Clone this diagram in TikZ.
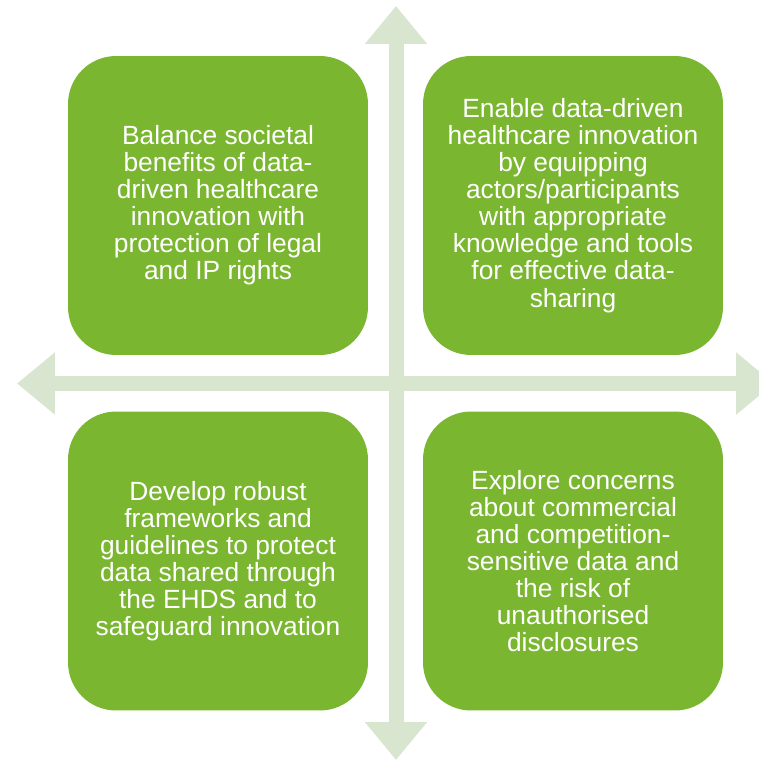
\documentclass[tikz,border=0pt]{standalone}
\usepackage{fontspec}
\setmainfont{Liberation Sans}
\usetikzlibrary{arrows.meta}
\definecolor{leafgreen}{RGB}{122,182,48}
\definecolor{axisgreen}{RGB}{216,229,207}

\begin{document}
\begin{tikzpicture}[x=0.02cm, y=-0.02cm,
        quad/.style={fill=leafgreen, rounded corners=0.96cm, minimum width=6cm, minimum height=5.98cm,
            text=white, align=center, inner sep=0pt, font=\fontsize{15}{15.4}\selectfont},
        axis/.style={axisgreen, line width=0.3cm, {Triangle[width=1.2cm,length=0.76cm]}-{Triangle[width=1.2cm,length=0.76cm]}}]
        \clip (0,0) rectangle (759,761);
        \useasboundingbox (0,0) rectangle (759,761);
        \coordinate (top) at (396,6);
        \coordinate (bottom) at (396,760);
        \coordinate (left) at (17,383.5);
        \coordinate (right) at (774,383.5);
        \draw [axis] (top) -- (bottom);
        \draw [axis] (left) -- (right);
        \node [quad] (tl) at (218,205.5) {Balance societal\\benefits of data-\\driven healthcare\\innovation with\\protection of legal\\and IP rights};
        \node [quad] (tr) at (573,205.5) {Enable data-driven\\healthcare innovation\\by equipping\\actors/participants\\with appropriate\\knowledge and tools\\for effective data-\\sharing};
        \node [quad] (bl) at (218,561) {Develop robust\\frameworks and\\guidelines to protect\\data shared through\\the EHDS and to\\safeguard innovation};
        \node [quad] (br) at (573,561) {Explore concerns\\about commercial\\and competition-\\sensitive data and\\the risk of\\unauthorised\\disclosures};
    \end{tikzpicture}
\end{document}
